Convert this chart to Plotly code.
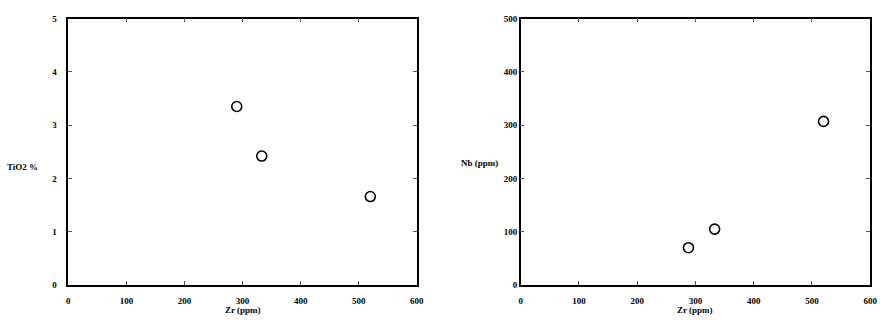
import plotly.graph_objects as go
from plotly.subplots import make_subplots

zr_left = [290, 333, 520]
tio2 = [3.35, 2.42, 1.66]
zr_right = [288, 333, 520]
nb = [70, 105, 307]

x_ticks = [0, 100, 200, 300, 400, 500, 600]
y1_ticks = [0, 1, 2, 3, 4, 5]
y2_ticks = [0, 100, 200, 300, 400, 500]

font = dict(family="Liberation Serif", size=9, color="black")

fig = go.Figure()
marker = dict(symbol="circle-open", size=10, color="black", line=dict(width=1.6, color="black"))
fig.add_trace(go.Scatter(x=zr_left, y=tio2, mode="markers", marker=marker, xaxis="x", yaxis="y", showlegend=False))
fig.add_trace(go.Scatter(x=zr_right, y=nb, mode="markers", marker=marker, xaxis="x2", yaxis="y2", showlegend=False))

ax_common = dict(showline=True, linecolor="black", linewidth=1.5, mirror="ticks", ticks="inside",
                 ticklen=4, tickcolor="#555", showgrid=False, zeroline=False,
                 tickfont=dict(family="Liberation Serif", size=9, color="black"))

fig.update_layout(
    width=890, height=325, margin=dict(l=0, r=0, t=0, b=0),
    paper_bgcolor="white", plot_bgcolor="white", font=font,
    xaxis=dict(domain=[0.0753, 0.4708], range=[0, 600], tickvals=x_ticks, anchor="y", **ax_common),
    yaxis=dict(domain=[0.111, 0.957], range=[0, 5], tickvals=y1_ticks, anchor="x", ticklabelstandoff=8, **ax_common),
    xaxis2=dict(domain=[0.5888, 0.9854], range=[0, 600], tickvals=x_ticks, anchor="y2", **ax_common),
    yaxis2=dict(domain=[0.111, 0.957], range=[0, 500], tickvals=y2_ticks, anchor="x2", **ax_common),
)
fig.update_xaxes(ticklabelstandoff=6)

ann = [
    dict(text="<b>TiO2 %</b>", x=3, y=167, xanchor="left"),
    dict(text="<b>Nb (ppm)</b>", x=462, y=163, xanchor="left"),
    dict(text="<b>Zr (ppm)</b>", x=243, y=315, xanchor="center"),
    dict(text="<b>Zr (ppm)</b>", x=700, y=315, xanchor="center"),
]
for a in ann:
    fig.add_annotation(text=a["text"], x=a["x"] / 890, y=1 - a["y"] / 325, xref="paper", yref="paper",
                       xanchor=a["xanchor"], yanchor="middle", showarrow=False,
                       font=dict(family="Liberation Serif", size=9, color="black"))

fig.update_xaxes(tickfont=dict(family="Liberation Serif", size=9, color="black", weight="bold"))
fig.update_yaxes(tickfont=dict(family="Liberation Serif", size=9, color="black", weight="bold"))

fig.write_html("out.html")
